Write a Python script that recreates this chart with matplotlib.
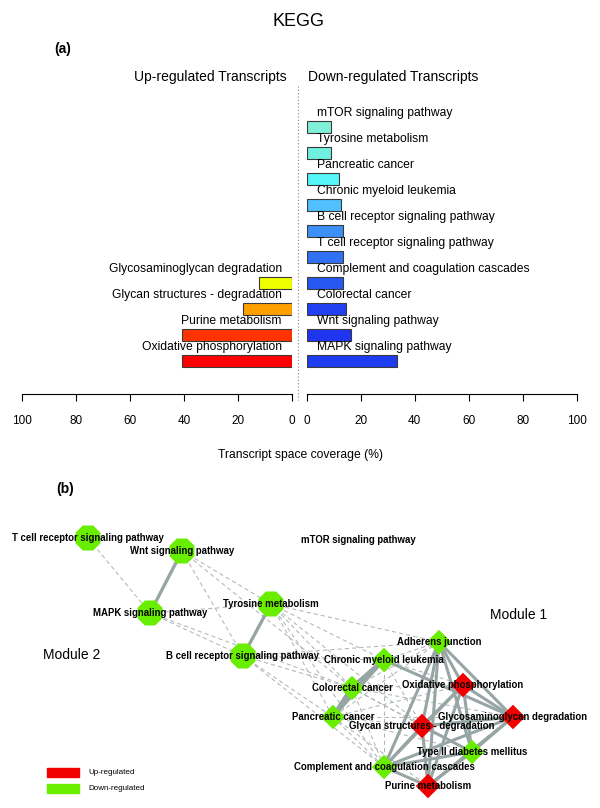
import matplotlib
matplotlib.use("Agg")
import matplotlib.pyplot as plt
from matplotlib.lines import Line2D
from matplotlib.patches import Rectangle

plt.rcParams['font.family'] = ['Liberation Sans', 'DejaVu Sans']

# ---------------- data: panel (a) ----------------
up_terms = ["Oxidative phosphorylation", "Purine metabolism",
            "Glycan structures - degradation", "Glycosaminoglycan degradation"]
up_values = [40.7, 40.7, 18.4, 12.2]
up_colors = ["#FF0000", "#FF3300", "#FFA000", "#F0FF00"]

down_terms = ["MAPK signaling pathway", "Wnt signaling pathway", "Colorectal cancer",
              "Complement and coagulation cascades", "T cell receptor signaling pathway",
              "B cell receptor signaling pathway", "Chronic myeloid leukemia",
              "Pancreatic cancer", "Tyrosine metabolism", "mTOR signaling pathway"]
down_values = [33.3, 16.3, 14.4, 13.6, 13.6, 13.6, 12.6, 11.9, 9.1, 9.1]
down_colors = ["#1E3CF0", "#2035F0", "#2040F2", "#2858F2", "#3070F2",
               "#3C90F8", "#50C0FF", "#55F5F8", "#70F0E0", "#80F0D8"]

tick_values = [0, 20, 40, 60, 80, 100]

# ---------------- data: panel (b) network ----------------
node_names = ["T cell receptor signaling pathway", "Wnt signaling pathway",
              "MAPK signaling pathway", "Tyrosine metabolism",
              "B cell receptor signaling pathway", "mTOR signaling pathway",
              "Adherens junction", "Chronic myeloid leukemia",
              "Oxidative phosphorylation", "Colorectal cancer", "Pancreatic cancer",
              "Glycan structures - degradation", "Glycosaminoglycan degradation",
              "Type II diabetes mellitus", "Complement and coagulation cascades",
              "Purine metabolism"]
node_keys = ["TCR", "WNT", "MAPK", "TYR", "BCR", "MTOR", "ADH", "CML", "OXP",
             "CRC", "PANC", "GLYC", "GAG", "T2D", "COMP", "PUR"]
node_x = [88, 182, 150, 271, 243, 358, 439, 384, 463, 352, 333, 422, 513, 472, 384, 428]
node_y = [538, 551, 613, 604, 656, 540, 642, 660, 685, 688, 717, 726, 717, 752, 767, 786]
node_reg = ["down", "down", "down", "down", "down", "none", "down", "down", "up",
            "down", "down", "up", "up", "down", "down", "up"]
node_shape = ["oct", "oct", "oct", "oct", "oct", "none", "dia", "dia", "dia",
              "dia", "dia", "dia", "dia", "dia", "dia", "dia"]

solid_edges = [("WNT", "MAPK", 2.4), ("TYR", "BCR", 2.4),
               ("CML", "CRC", 3.6), ("CRC", "PANC", 3.6), ("CML", "PANC", 2.2),
               ("CML", "GAG", 2.2),
               ("ADH", "OXP", 2.2), ("ADH", "GLYC", 2.2), ("ADH", "GAG", 2.2),
               ("ADH", "T2D", 2.2), ("ADH", "COMP", 2.2), ("ADH", "PUR", 2.2),
               ("OXP", "GLYC", 2.2), ("OXP", "GAG", 2.2), ("OXP", "T2D", 2.2),
               ("OXP", "COMP", 2.2), ("OXP", "PUR", 2.2),
               ("GLYC", "GAG", 2.2), ("GLYC", "T2D", 2.2), ("GLYC", "COMP", 2.2),
               ("GLYC", "PUR", 2.2), ("GAG", "T2D", 2.2), ("GAG", "COMP", 2.2),
               ("GAG", "PUR", 2.2), ("T2D", "COMP", 2.2), ("T2D", "PUR", 2.2),
               ("COMP", "PUR", 2.2)]
dashed_edges = [("TCR", "MAPK"), ("WNT", "TYR"), ("WNT", "BCR"), ("WNT", "CRC"),
                ("MAPK", "TYR"), ("MAPK", "BCR"), ("MAPK", "CRC"),
                ("TYR", "ADH"), ("TYR", "CML"), ("TYR", "CRC"), ("TYR", "PANC"),
                ("TYR", "COMP"), ("TYR", "GLYC"),
                ("BCR", "CML"), ("BCR", "CRC"), ("BCR", "PANC"), ("BCR", "COMP"),
                ("BCR", "ADH"),
                ("ADH", "CML"), ("ADH", "CRC"), ("ADH", "PANC"),
                ("CML", "COMP"), ("CML", "GLYC"), ("CML", "OXP"),
                ("CRC", "COMP"), ("CRC", "GAG"), ("CRC", "OXP"), ("CRC", "T2D"),
                ("CRC", "GLYC"), ("PANC", "COMP"), ("PANC", "GAG"), ("PANC", "OXP"),
                ("PANC", "T2D"), ("PANC", "PUR"), ("PANC", "GLYC")]

legend_labels = ["Up-regulated", "Down-regulated"]
reg_colors = {"up": "#F20000", "down": "#6AEE00"}

# ---------------- figure ----------------
W, H = 600, 808
fig = plt.figure(figsize=(6, 8.08), dpi=100)


def fx(x):
    return x / W


def fy(y):
    return 1 - y / H


STEP = 26.0
Y0 = 361.0
AX_TOP, AX_BOT = 100.0, 394.0
ylo = -(AX_BOT - Y0) / STEP
yhi = (Y0 - AX_TOP) / STEP
ax_h = (AX_BOT - AX_TOP) / H

axL = fig.add_axes([fx(22.3), fy(AX_BOT), 270 / W, ax_h])
axR = fig.add_axes([fx(306.7), fy(AX_BOT), 270 / W, ax_h])

for ax, terms, vals, cols, side in [(axL, up_terms, up_values, up_colors, "L"),
                                     (axR, down_terms, down_values, down_colors, "R")]:
    ypos = list(range(len(vals)))
    ax.barh(ypos, vals, height=0.49, color=cols, edgecolor="#3a3a3a", linewidth=0.8)
    for yy, t in zip(ypos, terms):
        ax.text(3.9, yy + 0.54, t, ha="right" if side == "L" else "left",
                va="center", fontsize=8.7)
    ax.set_xlim((100, 0) if side == "L" else (0, 100))
    ax.set_ylim(ylo, yhi)
    for s in ["top", "right", "left"]:
        ax.spines[s].set_visible(False)
    ax.spines["bottom"].set_bounds(0, 100)
    ax.spines["bottom"].set_linewidth(0.8)
    ax.set_yticks([])
    ax.set_xticks(tick_values)
    ax.set_xticklabels([str(v) for v in tick_values])
    ax.tick_params(axis="x", length=5, width=0.8, labelsize=8.5, pad=10)
    ax.patch.set_alpha(0)

# dotted divider
fig.add_artist(Line2D([fx(298.3), fx(298.3)], [fy(86), fy(400)],
                      linestyle=(0, (1, 2)), color="#888888", linewidth=0.8))

fig.text(fx(299), fy(21), "KEGG", ha="center", va="center", fontsize=13)
fig.text(fx(63), fy(49), "(a)", ha="center", va="center", fontsize=10, fontweight="bold")
fig.text(fx(210), fy(76.5), "Up-regulated Transcripts", ha="center", va="center", fontsize=10)
fig.text(fx(393), fy(76.5), "Down-regulated Transcripts", ha="center", va="center", fontsize=10)
fig.text(fx(300), fy(455), "Transcript space coverage (%)", ha="center", va="center", fontsize=8.7)
fig.text(fx(65), fy(489), "(b)", ha="center", va="center", fontsize=10, fontweight="bold")

# ---------------- network panel ----------------
axN = fig.add_axes([0, 0, 1, 1], zorder=-1)
axN.set_xlim(0, W)
axN.set_ylim(H, 0)
axN.axis("off")

pos = {k: (x, y) for k, x, y in zip(node_keys, node_x, node_y)}

for a, b in dashed_edges:
    axN.plot([pos[a][0], pos[b][0]], [pos[a][1], pos[b][1]], color="#AEB6B6",
             linewidth=0.75, linestyle=(0, (4, 3)), zorder=1)
for a, b, w in solid_edges:
    axN.plot([pos[a][0], pos[b][0]], [pos[a][1], pos[b][1]], color="#98A5A5",
             linewidth=w, solid_capstyle="butt", zorder=2)

for k, x, y, reg, shp in zip(node_keys, node_x, node_y, node_reg, node_shape):
    if shp == "oct":
        axN.scatter([x], [y], marker="8", s=19.5 ** 2, color=reg_colors[reg],
                    edgecolors="none", zorder=3)
    elif shp == "dia":
        axN.scatter([x], [y], marker="D", s=12.5 ** 2, color=reg_colors[reg],
                    edgecolors="none", zorder=3)

for name, x, y in zip(node_names, node_x, node_y):
    axN.text(x, y, name, ha="center", va="center", fontsize=6.9,
             fontweight="bold", zorder=4)

axN.text(72, 655, "Module 2", ha="center", va="center", fontsize=10)
axN.text(519, 615, "Module 1", ha="center", va="center", fontsize=10)

# legend
for i, (lab, reg) in enumerate(zip(legend_labels, ["up", "down"])):
    yy = 772.5 + 16 * i
    axN.add_patch(Rectangle((47, yy - 4.5), 32, 9, color=reg_colors[reg], zorder=3))
    axN.text(88, yy, lab, ha="left", va="center", fontsize=5.8)

fig.savefig("out.png", dpi=100)
